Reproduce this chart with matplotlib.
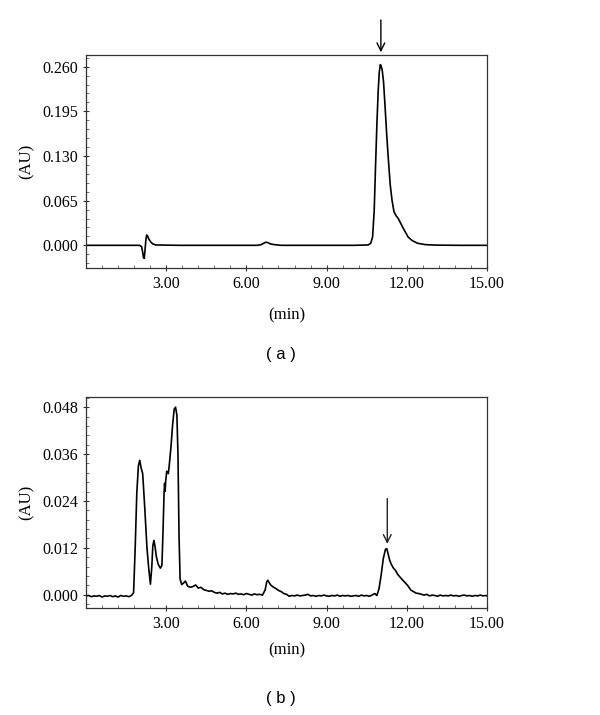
import matplotlib
matplotlib.use("Agg")
import matplotlib.pyplot as plt
from matplotlib.ticker import FixedLocator, MultipleLocator

# Panel (a): chromatogram
t_a = [0.0, 1.0, 2.0, 2.08, 2.12, 2.15, 2.18, 2.21, 2.24, 2.27, 2.30,
       2.35, 2.42, 2.5, 2.62, 3.5, 5.0, 6.4, 6.55, 6.65, 6.72, 6.8, 6.9,
       7.05, 7.3, 8.5, 10.0, 10.55, 10.65, 10.72, 10.78, 10.83, 10.88,
       10.93, 10.97, 11.01, 11.04, 11.08, 11.13, 11.19, 11.25, 11.31,
       11.38, 11.45, 11.52, 11.6, 11.68, 11.76, 11.85, 11.95, 12.05,
       12.2, 12.4, 12.7, 13.1, 14.0, 15.0]
au_a = [0.0, 0.0, 0.0, -0.002, -0.010, -0.018, -0.019, -0.006, 0.008,
        0.015, 0.014, 0.009, 0.005, 0.002, 0.0005, 0.0, 0.0, 0.0, 0.001,
        0.003, 0.0045, 0.004, 0.002, 0.001, 0.0, 0.0, 0.0, 0.0005, 0.003,
        0.012, 0.05, 0.114, 0.175, 0.225, 0.252, 0.263, 0.261, 0.255,
        0.238, 0.200, 0.160, 0.125, 0.088, 0.065, 0.049, 0.043, 0.039,
        0.033, 0.026, 0.019, 0.012, 0.007, 0.003, 0.001, 0.0003, 0.0, 0.0]

# Panel (b)
t_b = [0.0, 0.1, 0.2, 0.3, 0.4, 0.5, 0.6, 0.7, 0.8, 0.9, 1.0, 1.1, 1.2,
       1.3, 1.4, 1.5, 1.6, 1.7,
       1.78, 1.84, 1.9, 1.96, 2.01, 2.06, 2.12, 2.2, 2.28, 2.35, 2.41,
       2.46, 2.5, 2.54, 2.58, 2.63, 2.7, 2.78, 2.84, 2.88, 2.92, 2.94,
       2.96, 2.98, 3.02, 3.05, 3.08, 3.12, 3.18, 3.24, 3.30, 3.35, 3.40,
       3.44, 3.48, 3.52, 3.58, 3.65, 3.72, 3.8, 3.9, 4.0, 4.1, 4.2, 4.3,
       4.4, 4.5, 4.6, 4.7, 4.8, 4.9, 5.0, 5.1, 5.2, 5.3, 5.4, 5.5, 5.6,
       5.7, 5.8, 5.9, 6.0, 6.1, 6.2, 6.3, 6.4, 6.5, 6.6,
       6.7, 6.76, 6.8, 6.86, 6.92, 7.0, 7.1, 7.2, 7.3, 7.4, 7.5, 7.6,
       7.7, 7.8, 7.9, 8.0, 8.1, 8.2, 8.3, 8.4, 8.5, 8.6, 8.7, 8.8, 8.9,
       9.0, 9.1, 9.2, 9.3, 9.4, 9.5, 9.6, 9.7, 9.8, 9.9, 10.0, 10.1,
       10.2, 10.3, 10.4, 10.5, 10.6, 10.7, 10.8, 10.88,
       10.96, 11.04, 11.12, 11.2, 11.25, 11.3, 11.36, 11.42, 11.5, 11.58,
       11.66, 11.75, 11.85, 11.95, 12.05, 12.15, 12.25, 12.35, 12.45,
       12.55, 12.65, 12.75, 12.85, 12.95, 13.05, 13.15, 13.25, 13.35,
       13.45, 13.55, 13.65, 13.75, 13.85, 13.95, 14.05, 14.15, 14.25,
       14.35, 14.45, 14.55, 14.65, 14.75, 14.85, 14.95, 15.0]
au_b = [-0.0003, -0.0002, -0.0005, -0.0003, -0.0004, -0.0002, -0.0006,
        -0.0003, -0.0004, -0.0002, -0.0005, -0.0003, -0.0006, -0.0002,
        -0.0004, -0.0003, -0.0005, -0.0002,
        0.0005, 0.012, 0.026, 0.033, 0.0344, 0.0325, 0.031, 0.022, 0.012,
        0.0065, 0.0027, 0.007, 0.0125, 0.0139, 0.0125, 0.0098, 0.0078,
        0.0068, 0.0075, 0.016, 0.026, 0.0285, 0.0265, 0.029, 0.0316,
        0.0312, 0.031, 0.0335, 0.038, 0.0435, 0.0475, 0.048, 0.046, 0.036,
        0.015, 0.004, 0.0026, 0.003, 0.0035, 0.0022, 0.0019, 0.0021,
        0.0025, 0.0017, 0.0019, 0.0013, 0.0011, 0.0009, 0.0010, 0.0006,
        0.0004, 0.0006, 0.0002, 0.0004, 0.0001, 0.0003, 0.0002, 0.0004,
        0.0001, 0.0002, 0.0000, 0.0003, 0.0001, -0.0001, 0.0002, 0.0,
        0.0001, -0.0001,
        0.0012, 0.0033, 0.0037, 0.0030, 0.0024, 0.0020, 0.0016, 0.0011,
        0.0008, 0.0003, 0.0001, -0.0004, -0.0002, -0.0003, -0.0001,
        -0.0003, -0.0002, -0.0001, 0.0001, -0.0003, -0.0002, -0.0004,
        -0.0002, -0.0003, -0.0001, -0.0003, -0.0004, -0.0002, -0.0003,
        -0.0001, -0.0004, -0.0002, -0.0003, -0.0002, -0.0004, -0.0003,
        -0.0002, -0.0004, -0.0001, -0.0003, -0.0002, -0.0004, -0.0001,
        0.0003, -0.0002,
        0.0015, 0.005, 0.0092, 0.0116, 0.0118, 0.0105, 0.0088, 0.0078,
        0.0068, 0.0062, 0.0052, 0.0045, 0.0037, 0.0030, 0.0022, 0.0012,
        0.0008, 0.0004, 0.0003, 0.0001, -0.0001, 0.0001, -0.0003,
        -0.0001, -0.0002, -0.0004, -0.0001, -0.0003, -0.0002, -0.0003,
        -0.0001, -0.0003, -0.0002, -0.0004, -0.0002, -0.0001, -0.0003,
        -0.0002, -0.0004, -0.0002, -0.0003, -0.0001, -0.0003, -0.0002,
        -0.0003]

xticks = [3, 6, 9, 12, 15]
xticklabels = ["3.00", "6.00", "9.00", "12.00", "15.00"]
yticks_a = [0.0, 0.065, 0.130, 0.195, 0.260]
yticks_b = [0.0, 0.012, 0.024, 0.036, 0.048]
arrow_a = (11.03, 0.281, 0.328)   # x, head y, tail y
arrow_b = (11.27, 0.0130, 0.0246)

W, H = 600, 715
serif = "Liberation Serif"
fig = plt.figure(figsize=(W / 100, H / 100), dpi=100)


def px_axes(left, top, right, bottom):
    return fig.add_axes([left / W, 1 - bottom / H, (right - left) / W,
                         (bottom - top) / H])


def style(ax, yticks, ylim, yfmt, yminor):
    ax.set_xlim(0, 15)
    ax.set_ylim(*ylim)
    ax.xaxis.set_major_locator(FixedLocator(xticks))
    ax.set_xticklabels(xticklabels)
    ax.xaxis.set_minor_locator(MultipleLocator(0.6))
    ax.yaxis.set_major_locator(FixedLocator(yticks))
    ax.set_yticklabels([yfmt.format(v) for v in yticks])
    ax.yaxis.set_minor_locator(MultipleLocator(yminor))
    ax.tick_params(which="major", direction="inout", length=5, width=0.8,
                   color="#333333", labelsize=11.5, pad=3)
    ax.tick_params(which="minor", direction="in", length=2.5, width=0.6,
                   color="#555555")
    for lab in ax.get_xticklabels() + ax.get_yticklabels():
        lab.set_fontfamily(serif)
    for s in ax.spines.values():
        s.set_linewidth(0.9)
        s.set_color("#333333")
    ax.set_ylabel("(AU)", fontfamily=serif, fontsize=12, labelpad=6)


# (a)
ax1 = px_axes(86, 55, 487, 268)
ax1.plot(t_a, au_a, color="black", lw=1.2)
style(ax1, yticks_a, (-0.033, 0.277), "{:.3f}", 0.013)
ax1.annotate("", xy=(arrow_a[0], arrow_a[1]), xytext=(arrow_a[0], arrow_a[2]),
             arrowprops=dict(arrowstyle="->", color="black", lw=1.0,
                             shrinkA=0, shrinkB=0, mutation_scale=14),
             annotation_clip=False)

# (b)
ax2 = px_axes(86, 397, 487, 608)
ax2.plot(t_b, au_b, color="black", lw=1.2)
style(ax2, yticks_b, (-0.0034, 0.0506), "{:.3f}", 0.0024)
ax2.annotate("", xy=(arrow_b[0], arrow_b[1]), xytext=(arrow_b[0], arrow_b[2]),
             arrowprops=dict(arrowstyle="->", color="#222222", lw=1.0,
                             shrinkA=0, shrinkB=0, mutation_scale=14))

fig.text(287 / W, 1 - 315 / H, "(min)", ha="center", va="center",
         fontfamily=serif, fontsize=12)
fig.text(287 / W, 1 - 650 / H, "(min)", ha="center", va="center",
         fontfamily=serif, fontsize=12)
fig.text(281 / W, 1 - 355 / H, "( a )", ha="center", va="center",
         fontfamily="Liberation Sans", fontsize=12)
fig.text(281 / W, 1 - 698 / H, "( b )", ha="center", va="center",
         fontfamily="Liberation Sans", fontsize=12)

fig.savefig("out.png", dpi=100, facecolor="white")
